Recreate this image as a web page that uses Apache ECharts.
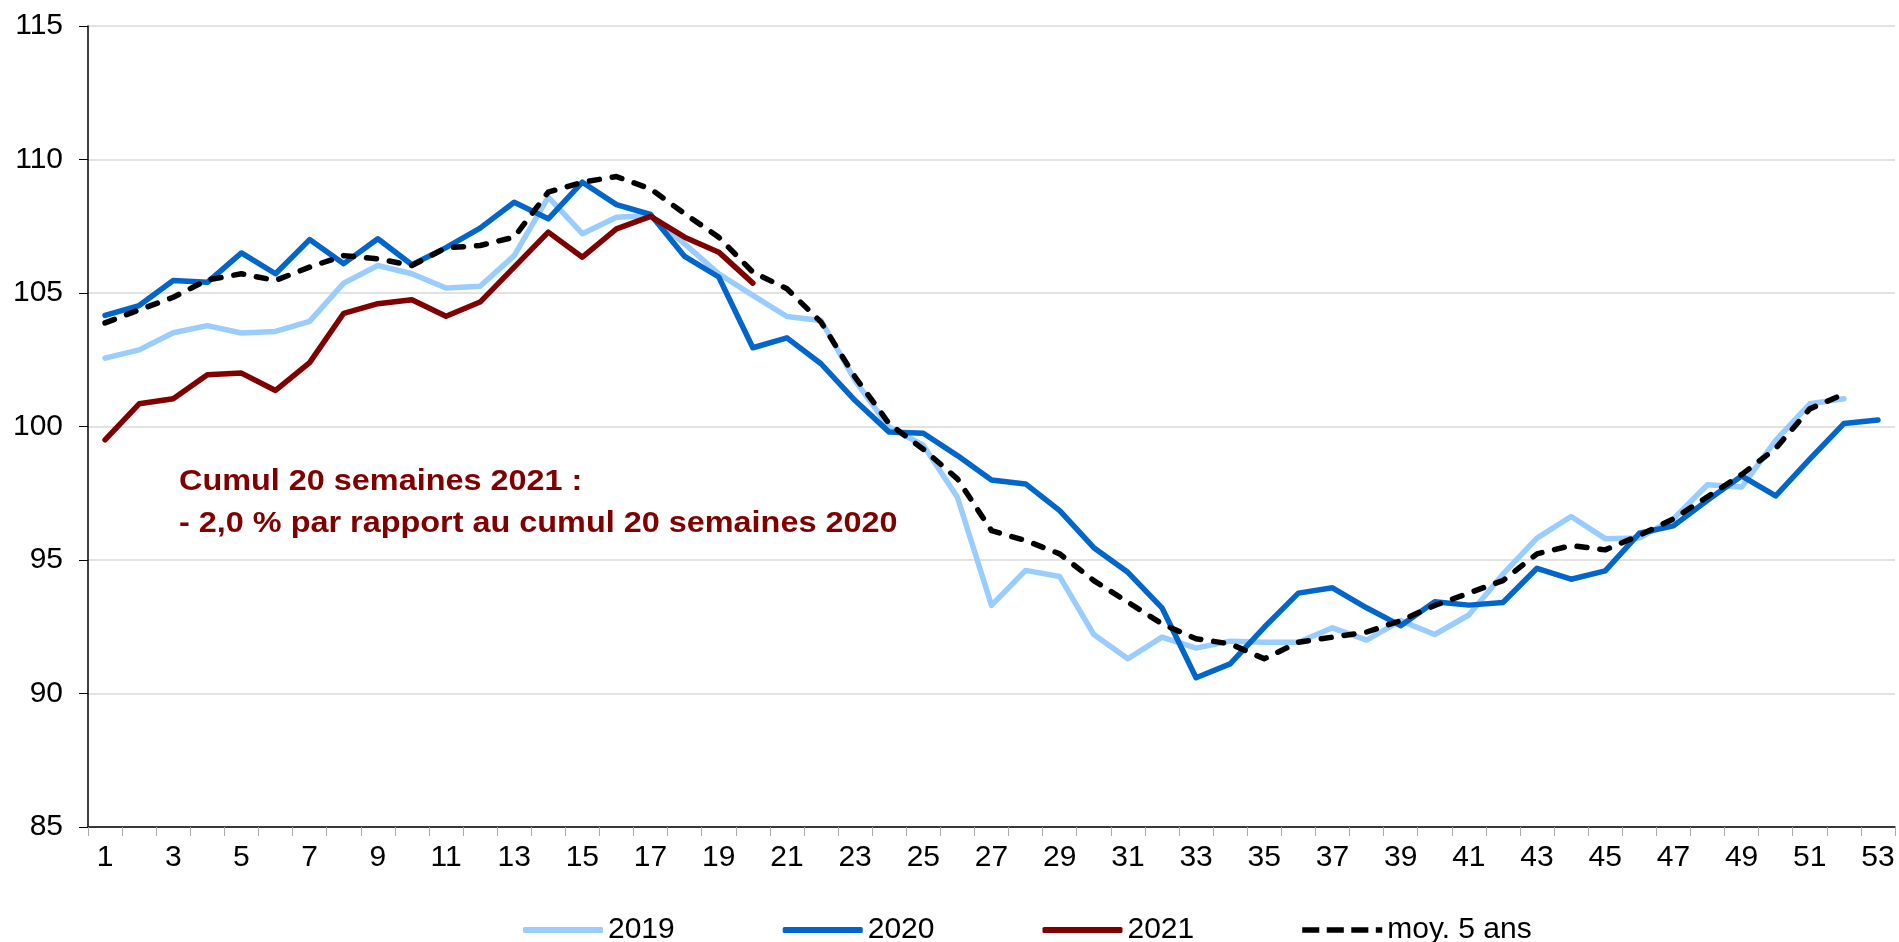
<!DOCTYPE html>
<html>
<head>
<meta charset="utf-8">
<script src="https://cdn.jsdelivr.net/npm/echarts@6/dist/echarts.min.js"></script>
<style>
  html, body { margin: 0; padding: 0; background: #fff; }
  #main { width: 1899px; height: 942px; }
</style>
</head>
<body>
<div id="main"></div>
<script>
// weeks 1..53
var weeks = [];
for (var w = 1; w <= 53; w++) weeks.push(String(w));

var yTicks = [85, 90, 95, 100, 105, 110, 115];

var s2019 = [102.56, 102.87, 103.51, 103.78, 103.5, 103.56, 103.94, 105.37, 106.03, 105.72,
    105.19, 105.25, 106.4, 108.59, 107.22, 107.84, 107.9, 106.84, 105.72, 104.91,
    104.12, 103.97, 101.72, 99.97, 99.3, 97.35, 93.3, 94.61, 94.38, 92.21,
    91.3, 92.11, 91.7, 91.96, 91.92, 91.92, 92.46, 92.0, 92.73, 92.21,
    92.94, 94.47, 95.82, 96.63, 95.8, 95.82, 96.54, 97.82, 97.73, 99.48,
    100.85, 101.04];

var s2020 = [104.16, 104.53, 105.47, 105.4, 106.5, 105.72, 107.0, 106.1, 107.03, 106.06,
    106.7, 107.43, 108.4, 107.78, 109.15, 108.31, 107.94, 106.37, 105.6, 102.95,
    103.32, 102.35, 100.97, 99.79, 99.75, 98.91, 98.0, 97.85, 96.85, 95.46,
    94.54, 93.21, 90.59, 91.11, 92.48, 93.76, 93.96, 93.21, 92.54, 93.44,
    93.31, 93.41, 94.69, 94.28, 94.59, 96.0, 96.28, 97.24, 98.15, 97.4,
    98.78, 100.11, 100.24];

var s2021 = [99.5, 100.85, 101.04, 101.94, 102.0, 101.35, 102.39, 104.24, 104.6, 104.75,
    104.13, 104.66, 105.97, 107.28, 106.34, 107.4, 107.87, 107.09, 106.53, 105.37];

var moy5 = [103.88, 104.37, 104.84, 105.49, 105.72, 105.47, 105.97, 106.4, 106.28, 106.03,
    106.69, 106.78, 107.09, 108.78, 109.15, 109.36, 108.9, 107.97, 107.09, 105.78,
    105.16, 103.91, 101.85, 100.1, 99.15, 98.04, 96.1, 95.73, 95.23, 94.23,
    93.42, 92.61, 92.05, 91.86, 91.3, 91.92, 92.11, 92.3, 92.73, 93.3,
    93.76, 94.23, 95.23, 95.54, 95.38, 95.92, 96.54, 97.37, 98.2, 99.18,
    100.66, 101.22];

var FONT = '"Liberation Sans", Arial, sans-serif';
var DASH_ICON = 'path://M0,0h16v5h-16z M23,0h16v5h-16z M46,0h16v5h-16z M69,0h6v5h-6z';

var chart = echarts.init(document.getElementById('main'), null, { renderer: 'canvas' });

function lineSeries(name, data, color, type) {
    return {
        name: name,
        type: 'line',
        data: data,
        symbol: 'none',
        smooth: false,
        lineStyle: { color: color, width: 5.5, type: type || 'solid', cap: 'round', join: 'round' },
        itemStyle: { color: color },
        emphasis: { disabled: true }
    };
}

var option = {
    backgroundColor: '#ffffff',
    animation: false,
    textStyle: { fontFamily: FONT },
    grid: { left: 88, right: 4, top: 26, bottom: 115, containLabel: false },
    legend: {
        left: 518,
        top: 910,
        itemWidth: 80,
        itemHeight: 6,
        itemGap: 108,
        textStyle: { fontFamily: FONT, fontSize: 30, color: '#000' },
        data: [
            { name: '2019', icon: 'roundRect' },
            { name: '2020', icon: 'roundRect' },
            { name: '2021', icon: 'roundRect' },
            { name: 'moy. 5 ans', icon: DASH_ICON }
        ]
    },
    xAxis: {
        type: 'category',
        data: weeks,
        boundaryGap: true,
        axisLine: { lineStyle: { color: '#000', width: 1.5 } },
        axisTick: { show: true, interval: 0, length: 9, lineStyle: { color: '#aaa' } },
        axisLabel: { interval: 1, fontSize: 30, color: '#000', margin: 16, fontFamily: FONT },
        splitLine: { show: false }
    },
    yAxis: {
        type: 'value',
        min: yTicks[0],
        max: yTicks[yTicks.length - 1],
        interval: 5,
        axisLine: { show: true, lineStyle: { color: '#000', width: 1.5 } },
        axisTick: { show: true, length: 9, lineStyle: { color: '#000' } },
        axisLabel: { fontSize: 30, color: '#000', margin: 25, fontFamily: FONT },
        splitLine: { show: true, lineStyle: { color: '#d9d9d9', width: 1.5 } }
    },
    graphic: [{
        type: 'text',
        left: 179,
        top: 461,
        scaleX: 1.08,
        style: {
            text: 'Cumul 20 semaines 2021 :\n- 2,0 % par rapport au cumul 20 semaines 2020',
            fill: '#800000',
            font: 'bold 30px ' + FONT,
            lineHeight: 42
        }
    }],
    series: [
        lineSeries('2019', s2019, '#99ccff'),
        lineSeries('2020', s2020, '#0066cc'),
        lineSeries('2021', s2021, '#800000'),
        lineSeries('moy. 5 ans', moy5, '#000000', [10, 13])
    ]
};

chart.setOption(option);
</script>
</body>
</html>
